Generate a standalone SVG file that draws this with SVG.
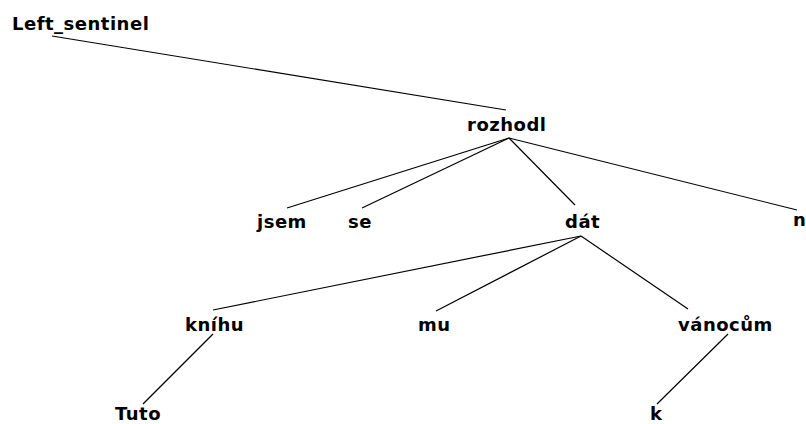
<svg xmlns="http://www.w3.org/2000/svg" width="806" height="424" viewBox="0 0 806 424">
<style>
text{font-family:"DejaVu Sans","Liberation Sans",sans-serif;font-weight:bold;font-size:18px;letter-spacing:0.5px;fill:#000}
.c line{stroke:#000;stroke-width:1.2}
</style>
<rect width="806" height="424" fill="#fff"/>
<g class="c" id="connectors">
<line x1="52" y1="36" x2="506" y2="110"/>
<line x1="509" y1="138" x2="287" y2="208"/>
<line x1="509" y1="138" x2="362" y2="208"/>
<line x1="509" y1="138" x2="575" y2="205"/>
<line x1="509" y1="138" x2="797" y2="210"/>
<line x1="581" y1="236" x2="213" y2="310"/>
<line x1="581" y1="236" x2="436" y2="311"/>
<line x1="581" y1="236" x2="688" y2="309"/>
<line x1="213" y1="334" x2="143" y2="404"/>
<line x1="728" y1="334" x2="657" y2="404"/>
</g>
<g id="n-left"><text x="12" y="30">Left_sentinel</text></g>
<g id="n-rozhodl"><text x="467" y="131">rozhodl</text></g>
<g id="n-jsem"><text x="257" y="228">jsem</text></g>
<g id="n-se"><text x="348" y="228">se</text></g>
<g id="n-dat"><text x="565" y="228">dát</text></g>
<g id="n-n"><text x="793" y="226">n</text></g>
<g id="n-knihu"><text x="185" y="331">kníhu</text></g>
<g id="n-mu"><text x="418" y="331">mu</text></g>
<g id="n-vanocum"><text x="678" y="331">vánocům</text></g>
<g id="n-tuto"><text x="115" y="420">Tuto</text></g>
<g id="n-k"><text x="650" y="420">k</text></g>
</svg>
